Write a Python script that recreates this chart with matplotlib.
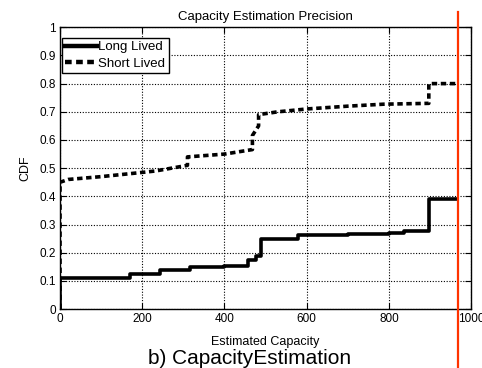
import matplotlib
matplotlib.use("Agg")
import matplotlib.pyplot as plt

plt.rcParams["font.family"] = ["Liberation Sans", "DejaVu Sans"]

# estimated capacity (x) and CDF (y)
long_x = [0, 0, 171, 244, 317, 400, 458, 476, 488, 580, 700, 800, 837, 898, 965]
long_y = [0, 0.11, 0.124, 0.14, 0.148, 0.152, 0.173, 0.19, 0.25, 0.263, 0.268, 0.271, 0.276, 0.39, 0.39]

short_x = [0, 0, 20, 100, 200, 232, 310, 310, 400, 468, 468, 483, 483, 530, 600, 700, 787, 897, 897, 965]
short_y = [0, 0.45, 0.46, 0.47, 0.485, 0.49, 0.51, 0.54, 0.55, 0.566, 0.616, 0.65, 0.69, 0.70, 0.71,
           0.72, 0.727, 0.73, 0.80, 0.80]

x_ticks = [0, 200, 400, 600, 800, 1000]
y_ticks = [0, 0.1, 0.2, 0.3, 0.4, 0.5, 0.6, 0.7, 0.8, 0.9, 1]
y_tick_labels = ["0", "0.1", "0.2", "0.3", "0.4", "0.5", "0.6", "0.7", "0.8", "0.9", "1"]

RED_LINE_X = 968

fig = plt.figure(figsize=(4.82, 3.68), dpi=100)
ax = fig.add_axes([0.1245, 0.160, 0.853, 0.766])

ax.step(long_x, long_y, where="post", color="black", lw=2.6, label="Long Lived", zorder=3)
ax.plot(short_x, short_y, color="black", lw=2.6, dashes=(1.5, 1.0), label="Short Lived", zorder=3)

ax.set_xlim(0, 1000)
ax.set_ylim(0, 1)
ax.set_xticks(x_ticks)
ax.set_yticks(y_ticks)
ax.set_yticklabels(y_tick_labels)
ax.tick_params(direction="in", length=4, width=0.8, top=True, right=True, labelsize=8.5, pad=3)
ax.grid(True, color="black", linestyle=(0, (1, 1.5)), lw=0.8)
for s in ax.spines.values():
    s.set_linewidth(1.0)

ax.set_title("Capacity Estimation Precision", fontsize=9.5, pad=5)
ax.set_xlabel("Estimated Capacity", fontsize=9, labelpad=8)
ax.set_ylabel("CDF", fontsize=9, labelpad=6)

leg = ax.legend(loc="upper left", bbox_to_anchor=(0.005, 0.962), borderaxespad=0,
                fontsize=9.5, handlelength=2.4, handletextpad=0.1, borderpad=0.25,
                labelspacing=0.3, fancybox=False, framealpha=1)
leg.get_frame().set_edgecolor("black")
leg.get_frame().set_linewidth(1.0)
for h in leg.get_lines():
    h.set_linewidth(3.2)

ax.axvline(RED_LINE_X, ymin=-0.21, ymax=1.053, color="#ff3300", lw=1.6, clip_on=False, zorder=5)

fig.text(0.517, 0.012, "b) CapacityEstimation", fontsize=15, ha="center", va="baseline")

fig.savefig("out.png", dpi=100)
